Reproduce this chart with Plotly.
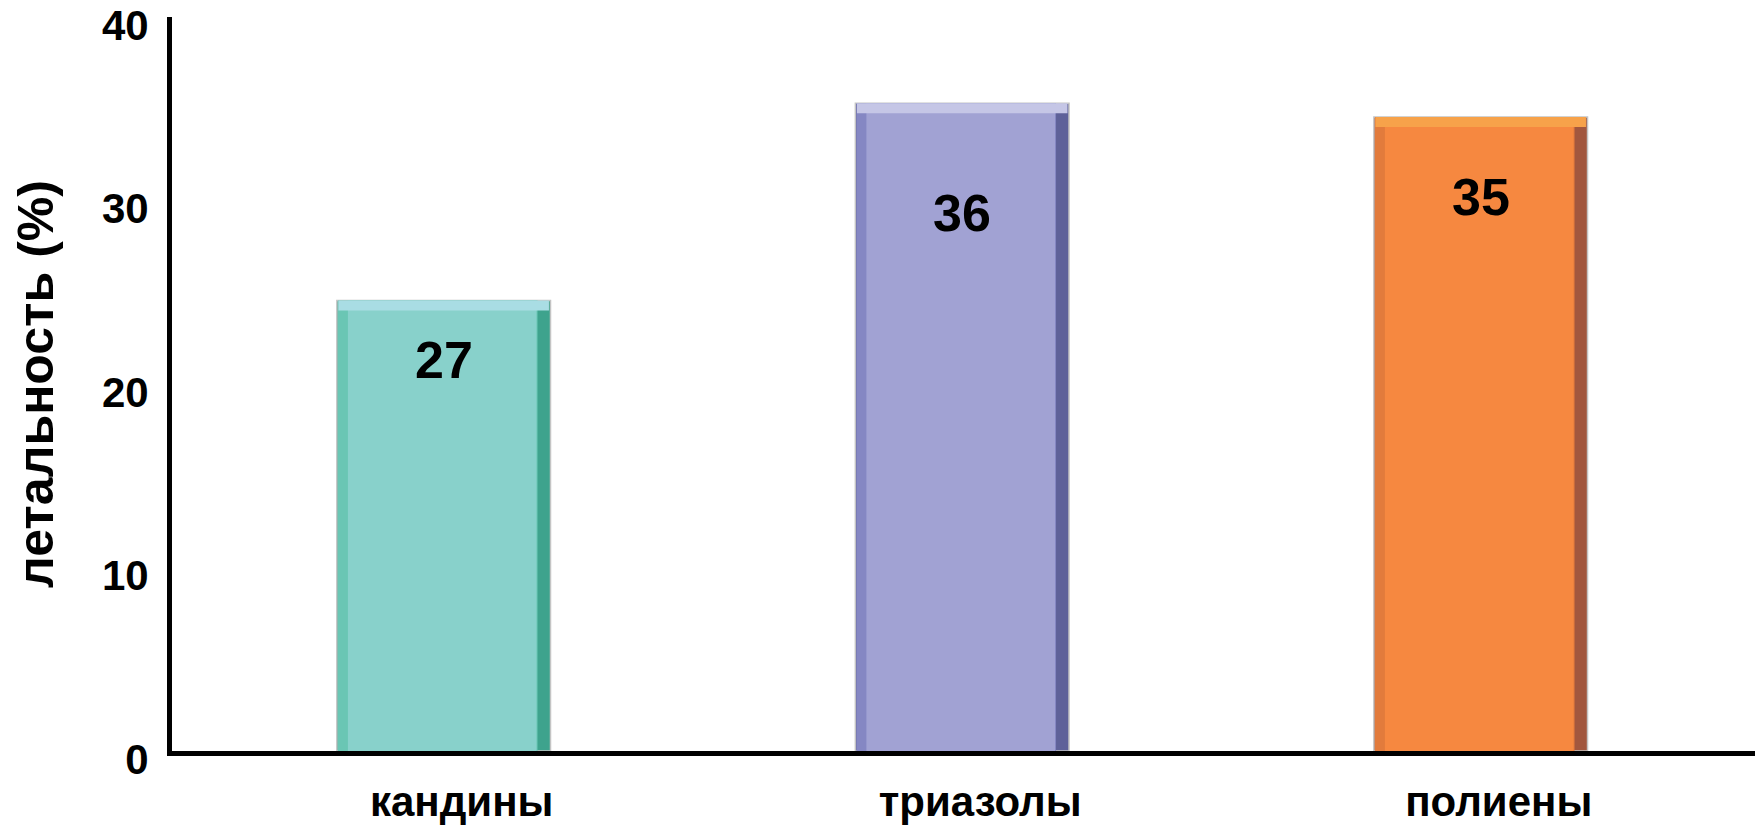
import plotly.graph_objects as go

# ---- data ----
categories = ["кандины", "триазолы", "полиены"]
bar_values = [24.55, 35.3, 34.55]        # bar heights as drawn
label_text = ["27", "36", "35"]          # numbers printed in the bars
label_y = [21.3, 29.3, 30.2]             # vertical position of printed numbers
y_ticks = [0, 10, 20, 30, 40]
y_title = "летальность (%)"

# ---- styles ----
main_col = ["#88D1CB", "#A1A2D3", "#F68840"]
left_col = ["#6AC6B4", "#8587C3", "#E27B3C"]
right_col = ["#3EA38D", "#5E6199", "#A2573E"]
top_col = ["#A9DDE4", "#C5C6E6", "#F7A24A"]

W = 0.412          # bar width in category units
px_per_cat = 518.5
px_per_unit = 18.375
e_r = 14 / px_per_cat
e_l = 11 / px_per_cat
t_h = 10 / px_per_unit

FONT = "Arial, Liberation Sans, sans-serif"

fig = go.Figure()
# outer (right edge colour) with grey outline
fig.add_trace(go.Bar(x=categories, y=bar_values, width=W,
                     marker=dict(color=right_col, line=dict(color="#C4C4C4", width=1.5)),
                     hoverinfo="skip"))
# left edge strip
fig.add_trace(go.Bar(x=categories, y=bar_values, width=W - e_r, offset=-W / 2 + 0.002,
                     marker=dict(color=left_col, line=dict(width=0)), hoverinfo="skip"))
# main face
fig.add_trace(go.Bar(x=categories, y=bar_values, width=W - e_r - e_l, offset=-W / 2 + e_l,
                     marker=dict(color=main_col, line=dict(width=0)), hoverinfo="skip"))
# top bevel
fig.add_trace(go.Bar(x=categories, y=[t_h] * len(bar_values),
                     base=[v - t_h for v in bar_values], width=W - 0.006,
                     marker=dict(color=top_col, line=dict(width=0)), hoverinfo="skip"))

for c, t, ly in zip(categories, label_text, label_y):
    fig.add_annotation(x=c, y=ly, text=t, showarrow=False,
                       font=dict(family=FONT, size=52, color="black", weight="bold"))

fig.update_layout(
    width=1756, height=820,
    barmode="overlay",
    showlegend=False,
    plot_bgcolor="white", paper_bgcolor="white",
    margin=dict(l=164, r=9, t=9, b=77, autoexpand=False),
    font=dict(family=FONT, color="black"),
)
fig.update_xaxes(
    type="category", range=[-0.524, 2.529],
    showline=True, linewidth=5, linecolor="black",
    showgrid=False, zeroline=False, ticks="",
    tickfont=dict(family=FONT, size=42, color="black", weight="bold"),
    ticklabelstandoff=10, ticklabelshift=18,
    automargin=False,
)
fig.update_yaxes(
    range=[0, 40], tickvals=y_ticks,
    showline=True, linewidth=5, linecolor="black",
    showgrid=False, zeroline=False, ticks="",
    tickfont=dict(family=FONT, size=42, color="black", weight="bold"),
    ticklabelstandoff=10, ticklabelshift=8, ticklabeloverflow="allow",
    automargin=False,
    title=dict(text=y_title, font=dict(family=FONT, size=50, color="black", weight="bold"),
               standoff=45),
)

fig.write_html("out.html")
